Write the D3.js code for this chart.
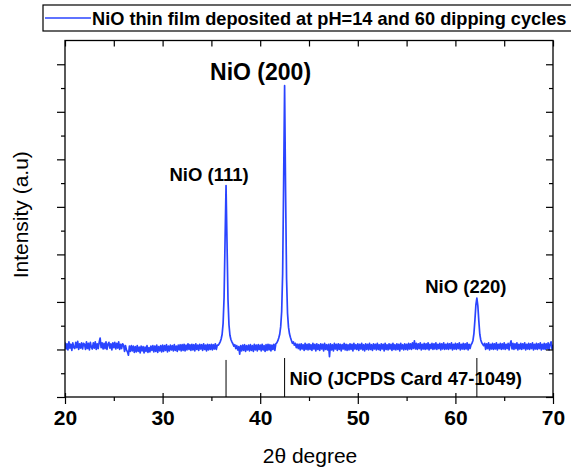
<!DOCTYPE html>
<html><head><meta charset="utf-8">
<script src="https://cdn.jsdelivr.net/npm/d3@7"></script>
<style>
html,body{margin:0;padding:0;background:#fff;}
svg{display:block;font-family:Arial,"Liberation Sans",sans-serif;}
</style></head>
<body>
<script>
// ---- data ----
const seriesName = "NiO thin film deposited at pH=14 and 60 dipping cycles";
const angleStart = 20, angleStep = 0.1;   // 2θ sampling grid of the scan
const intensity = [
15,1,12,-1,16,3,11,-2,14,4,
2,15,4,17,0,12,3,14,1,13,
11,0,16,2,13,-1,15,5,1,14,
3,16,0,12,2,15,24,4,14,1,
13,2,16,0,11,15,3,12,-1,14,
4,15,1,13,3,16,0,11,2,12,
9,-4,8,-1,-5,-12,7,-4,8,-3,
7,-6,6,-5,8,-4,5,-7,7,-3,
6,-7,5,-4,8,-6,4,-5,7,-2,
8,-5,7,-4,9,-6,6,-3,8,-5,
9,-4,8,-2,10,-5,7,-3,9,-1,
8,-3,10,-2,7,-4,9,-1,10,-3,
10,-2,11,-3,9,-1,12,0,10,-2,
11,-1,10,-3,12,0,9,-2,11,1,
10,-2,12,0,9,-3,11,-1,10,0,
11,-1,10,1,12,0,9,9,12,16,
22,32,55,110,230,345,225,105,52,30,
21,16,12,7,10,2,8,-1,6,-10,
8,-3,9,-2,10,-4,8,-1,9,-3,
10,-2,8,-4,11,-1,9,-3,10,0,
9,-3,11,-1,8,-4,10,-2,11,-1,
10,-3,9,0,11,-2,12,14,18,24,
32,48,80,160,350,555,335,150,76,47,
33,25,19,13,16,9,13,4,11,2,
11,-1,12,1,10,-2,13,0,11,-1,
12,0,10,-2,13,1,11,-3,12,0,
10,-2,12,1,11,-3,13,0,10,-1,
11,-15,12,-1,10,-3,13,1,11,-2,
12,0,11,-3,10,1,13,-1,11,-2,
10,-1,12,0,11,-3,13,1,10,0,
12,-2,11,1,13,-1,10,-3,12,0,
11,-1,13,0,10,-2,12,1,11,-1,
13,0,10,-2,12,1,11,-3,13,0,
10,-1,12,1,11,-2,13,0,10,-1,
12,0,11,-3,13,1,10,-1,12,0,
11,-1,13,1,12,0,14,2,18,1,
13,0,12,2,14,-1,11,1,13,0,
12,1,14,-1,11,2,13,0,12,1,
14,0,11,2,13,-1,12,1,14,0,
11,1,13,0,12,2,14,-1,11,1,
13,0,12,2,14,-1,11,1,13,0,
12,1,14,-1,11,2,10,13,19,34,
62,94,108,92,60,32,20,14,11,8,
13,0,12,2,14,-1,11,1,13,0,
12,1,14,-1,11,2,13,0,12,1,
14,0,11,2,13,-1,12,18,1,13,
0,12,2,14,-1,11,1,13,0,12,
2,14,-1,11,1,13,0,12,2,14,
-1,11,1,13,0,12,2,14,-1,11,
1,13,0,12,2,14,-1,11,16,1,
10
];
const peakLabels = ["NiO (111)", "NiO (200)", "NiO (220)"];
const peakAngles = [36.5, 42.5, 62.2];
const peakValues = [345, 555, 108];
const stickAngles = [36.5, 42.5, 62.2];      // JCPDS 47-1049 reference lines
const stickValues = [95, 100, 100];
const stickLabel = "NiO (JCPDS Card 47-1049)";
const xTicks = [20, 30, 40, 50, 60, 70];
const xMinor = [25, 35, 45, 55, 65];
const yMajor = [-100, 0, 100, 200, 300, 400, 500, 600];
const yMinor = [-50, 50, 150, 250, 350, 450, 550];
const xTitle = "2θ degree";
const yTitle = "Intensity (a.u)";

// ---- layout ----
const W = 571, H = 471;
const L = 65, R = 553, T = 40.5, B = 397;
const color = "#2a44ff";

const svg = d3.select("body").append("svg").attr("width", W).attr("height", H);

const x = d3.scaleLinear().domain([20, 70]).range([L, R]);
const y = d3.scaleLinear().domain([-100, 650]).range([B, T]);
const ys = d3.scaleLinear().domain([0, 100]).range([B, 358]);

const data = intensity.map((v, i) => ({a: angleStart + i * angleStep, v}));

svg.append("clipPath").attr("id", "clip").append("rect")
  .attr("x", L).attr("y", T).attr("width", R - L).attr("height", B - T);

// data line
svg.append("path").datum(data)
  .attr("clip-path", "url(#clip)")
  .attr("fill", "none").attr("stroke", color).attr("stroke-width", 1.7)
  .attr("stroke-linejoin", "round")
  .attr("d", d3.line().x(d => x(d.a)).y(d => y(d.v)));

// reference label
svg.append("text").attr("x", x(43.0)).attr("y", 385)
  .attr("font-size", 18.5).attr("font-weight", "bold").text(stickLabel);

// sticks
svg.selectAll("line.stick").data(stickAngles).enter().append("line")
  .attr("x1", d => x(d)).attr("x2", d => x(d))
  .attr("y1", (d, i) => ys(stickValues[i])).attr("y2", ys(0))
  .attr("stroke", "#000").attr("stroke-width", 1);

// peak labels
const labelSize = [18.5, 23, 18.5];
const labelDx = [-17, -24, -11];
const labelDy = [-4, -6, -5];
svg.selectAll("text.peak").data(peakLabels).enter().append("text")
  .attr("x", (d, i) => x(peakAngles[i]) + labelDx[i])
  .attr("y", (d, i) => y(peakValues[i]) + labelDy[i])
  .attr("text-anchor", "middle").attr("font-weight", "bold")
  .attr("font-size", (d, i) => labelSize[i]).text(d => d);

// axes
function clean(g) { g.select(".domain").remove(); g.selectAll("line").attr("stroke", "#000").attr("stroke-width", 1.2); }
svg.append("g").attr("transform", `translate(${L},0)`)
  .call(d3.axisLeft(y).tickValues(yMajor).tickSize(8).tickFormat("")).call(clean);
svg.append("g").attr("transform", `translate(${L},0)`)
  .call(d3.axisLeft(y).tickValues(yMinor).tickSize(4).tickFormat("")).call(clean);
svg.append("g").attr("transform", `translate(${R},0)`)
  .call(d3.axisRight(y).tickValues(yMajor).tickSize(-7).tickFormat("")).call(clean);
svg.append("g").attr("transform", `translate(${R},0)`)
  .call(d3.axisRight(y).tickValues(yMinor).tickSize(-4).tickFormat("")).call(clean);
svg.append("g").attr("transform", `translate(0,${T})`)
  .call(d3.axisTop(x).tickValues(xTicks.concat(xMinor)).tickSize(-6).tickFormat("")).call(clean);
svg.append("g").attr("transform", `translate(0,${B})`)
  .call(d3.axisBottom(x).tickValues(xMinor).tickSize(4).tickFormat("")).call(clean);
svg.append("g").attr("transform", `translate(0,${B})`)
  .call(d3.axisBottom(x).tickValues(xTicks).tickSize(-4).tickFormat("")).call(clean);
const gx = svg.append("g").attr("transform", `translate(0,${B})`)
  .call(d3.axisBottom(x).tickValues(xTicks).tickSize(7).tickPadding(6).tickFormat(d3.format("d")));
gx.call(clean);
gx.selectAll("text").attr("font-size", 21).attr("font-weight", "bold").attr("fill", "#000")
  .attr("font-family", "Arial, 'Liberation Sans', sans-serif");

// frame
svg.append("rect").attr("x", L).attr("y", T).attr("width", R - L).attr("height", B - T)
  .attr("fill", "none").attr("stroke", "#000").attr("stroke-width", 1.3);

// axis titles
svg.append("text").attr("x", (L + R) / 2 + 1).attr("y", 463).attr("text-anchor", "middle")
  .attr("font-size", 21).text(xTitle);
svg.append("text").attr("transform", `translate(28,${(T + B) / 2 - 4}) rotate(-90)`)
  .attr("text-anchor", "middle").attr("font-size", 21).text(yTitle);

// legend
const lg = svg.append("g");
lg.append("rect").attr("x", 43).attr("y", 5).attr("width", 540).attr("height", 26)
  .attr("fill", "#fff").attr("stroke", "#000").attr("stroke-width", 1.2);
lg.append("line").attr("x1", 45).attr("x2", 91).attr("y1", 18).attr("y2", 18)
  .attr("stroke", color).attr("stroke-width", 1.6);
lg.append("text").attr("x", 92).attr("y", 24.5).attr("font-size", 18.2)
  .attr("font-weight", "bold").text(seriesName);
</script>
</body></html>
